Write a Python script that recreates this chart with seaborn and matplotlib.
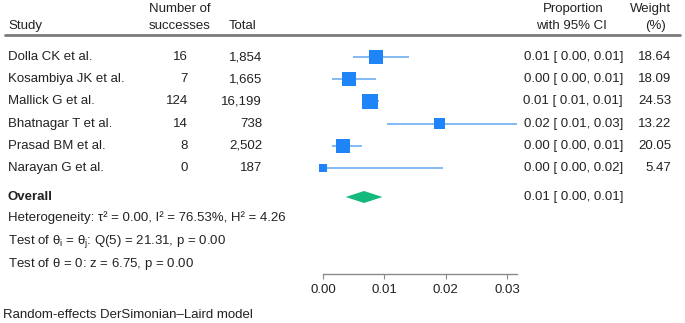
import numpy as np
import pandas as pd
import seaborn as sns
import matplotlib.pyplot as plt
from matplotlib.transforms import blended_transform_factory

# Study data
studies = ["Dolla CK et al.", "Kosambiya JK et al.", "Mallick G et al.",
           "Bhatnagar T et al.", "Prasad BM et al.", "Narayan G et al."]
successes = [16, 7, 124, 14, 8, 0]
totals = [1854, 1665, 16199, 738, 2502, 187]
ci_low = [0.0049, 0.0015, 0.0064, 0.0104, 0.0015, 0.0000]
ci_high = [0.0141, 0.0087, 0.0091, 0.0316, 0.0063, 0.0196]
ci_text = ["0.01 [ 0.00, 0.01]", "0.00 [ 0.00, 0.01]", "0.01 [ 0.01, 0.01]",
           "0.02 [ 0.01, 0.03]", "0.00 [ 0.00, 0.01]", "0.00 [ 0.00, 0.02]"]
weights = [18.64, 18.09, 24.53, 13.22, 20.05, 5.47]

# Overall estimate
overall_est = 0.0067
overall_low = 0.0037
overall_high = 0.0097
overall_text = "0.01 [ 0.00, 0.01]"

x_ticks = [0.00, 0.01, 0.02, 0.03]

df = pd.DataFrame({
    "study": studies, "successes": successes, "total": totals,
    "low": ci_low, "high": ci_high, "weight": weights,
})
df["prop"] = df["successes"] / df["total"]
df["row"] = 57 + np.arange(len(df)) * 22.2

sns.set_style("white")
plt.rcParams["font.family"] = ["Liberation Sans", "DejaVu Sans"]
plt.rcParams["mathtext.fontset"] = "custom"
plt.rcParams["mathtext.rm"] = "Liberation Sans"
plt.rcParams["mathtext.it"] = "Liberation Sans"

W, H = 685, 323
fig = plt.figure(figsize=(W / 100, H / 100), dpi=100)
# plot panel: 0.00 at x=323 px, 61.3 px per 0.01
px = 0.01 / 61.3
left_px, right_px = 300, 530
ax = fig.add_axes([left_px / W, 0, (right_px - left_px) / W, 1])
ax.set_xlim((left_px - 323) * px, (right_px - 323) * px)
ax.set_ylim(H, 0)

blue = "#1f84f8"
line_blue = "#6eaef2"
green = "#14b97c"
txt = "#222222"
fs = 9.5

ax.hlines(df["row"], df["low"], df["high"], color=line_blue, lw=1.2, zorder=1)
sns.scatterplot(data=df, x="prop", y="row", size="weight", marker="s",
                sizes=(5.2 * min(weights), 5.2 * max(weights)),
                size_norm=(min(weights), max(weights)),
                color=blue, linewidth=0, legend=False, ax=ax, zorder=2)

# overall diamond
oy = 197
ax.fill([overall_low, overall_est, overall_high, overall_est],
        [oy, oy - 6, oy, oy + 6], color=green, lw=0, zorder=2)

# axis
for s in ["top", "left", "right"]:
    ax.spines[s].set_visible(False)
ax.spines["bottom"].set_position(("data", 274))
ax.spines["bottom"].set_bounds(0, 0.0316)
ax.spines["bottom"].set_color("#8a8a8a")
ax.spines["bottom"].set_linewidth(1.0)
ax.set_xticks(x_ticks)
ax.set_xticklabels([f"{t:.2f}" for t in x_ticks])
ax.tick_params(axis="x", direction="out", length=3.5, width=0.8, color="#8a8a8a",
               labelsize=fs, labelcolor=txt, pad=4, bottom=True)
ax.set_yticks([])
ax.set_xlabel("")
ax.set_ylabel("")

tr = blended_transform_factory(fig.transFigure, ax.transData)

def put(xp, y, s, ha="left", **kw):
    ax.text(xp / W, y, s, transform=tr, ha=ha, va="center", fontsize=fs,
            color=txt, **kw)

# headers
put(180, 9, "Number of", ha="center")
put(8, 26, "Study")
put(180, 26, "successes", ha="center")
put(243, 26, "Total", ha="center")
put(573, 9, "Proportion", ha="center")
put(571, 26, "with 95% CI", ha="center")
put(651, 9, "Weight", ha="center")
put(655, 26, "(%)", ha="center")
fig.add_artist(plt.Line2D([5 / W, 680 / W], [1 - 35 / H, 1 - 35 / H],
                          color="#7a7a7a", lw=2, transform=fig.transFigure))

for _, r in df.iterrows():
    put(8, r["row"], r["study"])
    put(188, r["row"], f"{r['successes']:d}", ha="right")
    put(262, r["row"], f"{r['total']:,}", ha="right")
for y, c, w in zip(df["row"], ci_text, weights):
    put(623, y, c, ha="right")
    put(671, y, f"{w:.2f}", ha="right")

put(8, oy, "Overall", fontweight="bold")
put(623, oy, overall_text, ha="right")

put(8, 218, "Heterogeneity: τ² = 0.00, I² = 76.53%, H² = 4.26")
put(8, 242, r"Test of $\theta_i$ = $\theta_j$: Q(5) = 21.31, p = 0.00")
put(8, 264, r"Test of $\theta$ = 0: z = 6.75, p = 0.00")
put(3, 315, "Random-effects DerSimonian–Laird model")

fig.savefig("out.png", dpi=100)
